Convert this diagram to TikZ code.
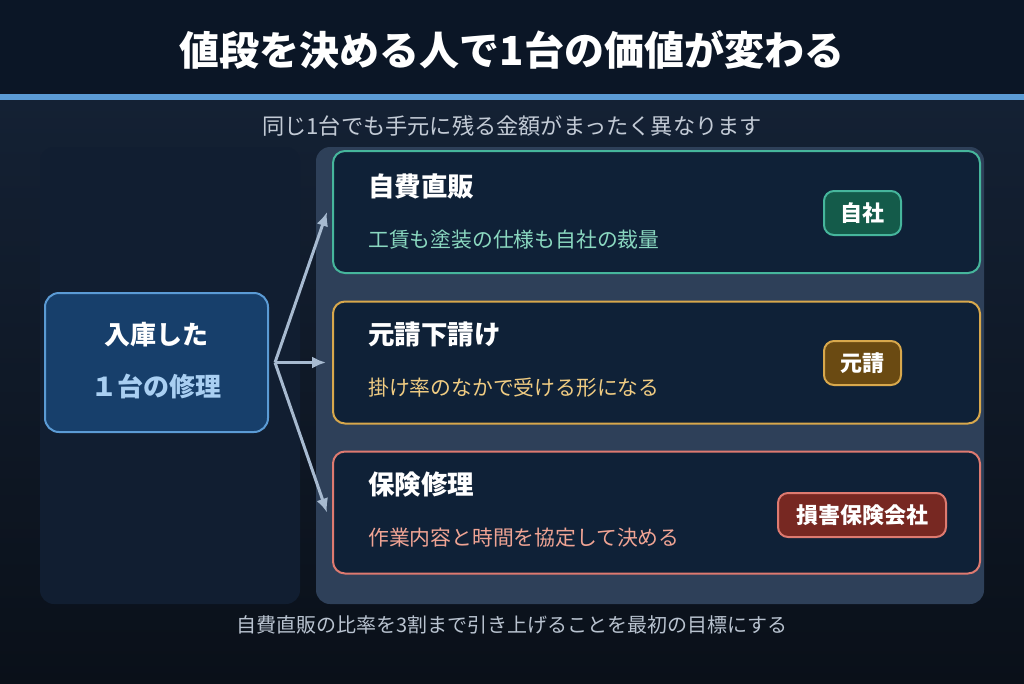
\documentclass[tikz,border=0pt]{standalone}
\usepackage{fontspec}
\setmainfont{Noto Sans CJK JP}
\usetikzlibrary{arrows.meta,positioning}
\definecolor{hdr}{HTML}{0B1626}
\definecolor{bgtop}{HTML}{142134}
\definecolor{bgbot}{HTML}{0A1019}
\definecolor{rule}{HTML}{5B9BD5}
\definecolor{subtxt}{HTML}{C3CBD6}
\definecolor{foottxt}{HTML}{B9C3D0}
\definecolor{lpanel}{HTML}{111E31}
\definecolor{rpanel}{HTML}{2E4059}
\definecolor{cardfill}{HTML}{0F2137}
\definecolor{srcfill}{HTML}{173F6B}
\definecolor{srcline}{HTML}{5B9BD5}
\definecolor{srclight}{HTML}{A9CFF2}
\definecolor{arrowc}{HTML}{A7BAD0}
\definecolor{tealline}{HTML}{46B69C}
\definecolor{tealtxt}{HTML}{8AD8C0}
\definecolor{tealfill}{HTML}{145B4A}
\definecolor{goldline}{HTML}{D8A84C}
\definecolor{goldtxt}{HTML}{F0CC82}
\definecolor{goldfill}{HTML}{6A4A12}
\definecolor{redline}{HTML}{DE7A70}
\definecolor{redtxt}{HTML}{F0A494}
\definecolor{redfill}{HTML}{772822}
\tikzset{
  panelbox/.style={rounded corners=14pt, inner sep=0pt},
  cardbox/.style={draw, line width=2pt, fill=cardfill, rounded corners=12pt,
    minimum width=647pt, minimum height=122pt, inner sep=0pt},
  badgebox/.style={draw, line width=2pt, rounded corners=10pt, minimum height=44pt,
    inner sep=0pt, text=white, font=\fontsize{22}{26}\selectfont\bfseries},
  cardtitle/.style={anchor=west, text=white, inner sep=0pt, font=\fontsize{26.5}{31}\selectfont\bfseries},
  carddesc/.style={anchor=west, inner sep=0pt, font=\fontsize{20.8}{25}\selectfont},
  arr/.style={draw=arrowc, line width=3pt, -{Latex[length=14pt,width=12pt]}},
}
\begin{document}
\begin{tikzpicture}[x=1pt,y=-1pt]
\useasboundingbox (0,0) rectangle (1024,683);
% background
\fill[hdr] (0,0) rectangle (1024,95);
\shade[top color=bgtop, bottom color=bgbot] (0,100) rectangle (1024,683);
\fill[rule] (0,94) rectangle (1024,100);
% title and texts
\node[text=white, font=\fontsize{40}{48}\selectfont\bfseries, inner sep=0pt] (title) at (512,50) {値段を決める人で1台の価値が変わる};
\node[text=subtxt, font=\fontsize{22.2}{26}\selectfont, inner sep=0pt] (sub) at (512,126) {同じ1台でも手元に残る金額がまったく異なります};
\node[text=foottxt, font=\fontsize{20}{24}\selectfont, inner sep=0pt] (foot) at (512,625) {自費直販の比率を3割まで引き上げることを最初の目標にする};
% panels
\node[panelbox, fill=lpanel, minimum width=260pt, minimum height=457pt] (lp) at (170,375.5) {};
\node[panelbox, fill=rpanel, minimum width=668pt, minimum height=457pt] (rp) at (650,375.5) {};
% source node
\node[draw=srcline, line width=2pt, fill=srcfill, rounded corners=14pt,
  minimum width=223pt, minimum height=139pt, inner sep=0pt] (src) at (156.5,362.5) {};
\node[text=white, font=\fontsize{26}{31}\selectfont\bfseries, inner sep=0pt] (srct1) at (156.5,335) {入庫した};
\node[text=srclight, font=\fontsize{26}{31}\selectfont\bfseries, inner sep=0pt] (srct2) at (156.5,386) {１台の修理};
% cards
\node[cardbox, draw=tealline] (c1) at (656.5,212) {};
\node[cardbox, draw=goldline] (c2) at (656.5,362.5) {};
\node[cardbox, draw=redline] (c3) at (656.5,512.5) {};
\node[cardtitle] (t1) at (368,186) {自費直販};
\node[carddesc, text=tealtxt] (d1) at (368,240) {工賃も塗装の仕様も自社の裁量};
\node[cardtitle] (t2) at (368,334) {元請下請け};
\node[carddesc, text=goldtxt] (d2) at (368,388) {掛け率のなかで受ける形になる};
\node[cardtitle] (t3) at (368,484) {保険修理};
\node[carddesc, text=redtxt] (d3) at (368,538) {作業内容と時間を協定して決める};
% badges
\node[badgebox, draw=tealline, fill=tealfill, minimum width=77pt] (b1) at (862.5,213) {自社};
\node[badgebox, draw=goldline, fill=goldfill, minimum width=77pt] (b2) at (862.5,363) {元請};
\node[badgebox, draw=redline, fill=redfill, minimum width=168pt] (b3) at (862,515) {損害保険会社};
% arrows
\coordinate (fan) at ([xshift=6pt]src.east);
\draw[arr] (fan) -- ([xshift=-5pt]c1.west);
\draw[arr] (fan) -- ([xshift=-6pt]c2.west);
\draw[arr] (fan) -- ([xshift=-5pt]c3.west);
\end{tikzpicture}
\end{document}
